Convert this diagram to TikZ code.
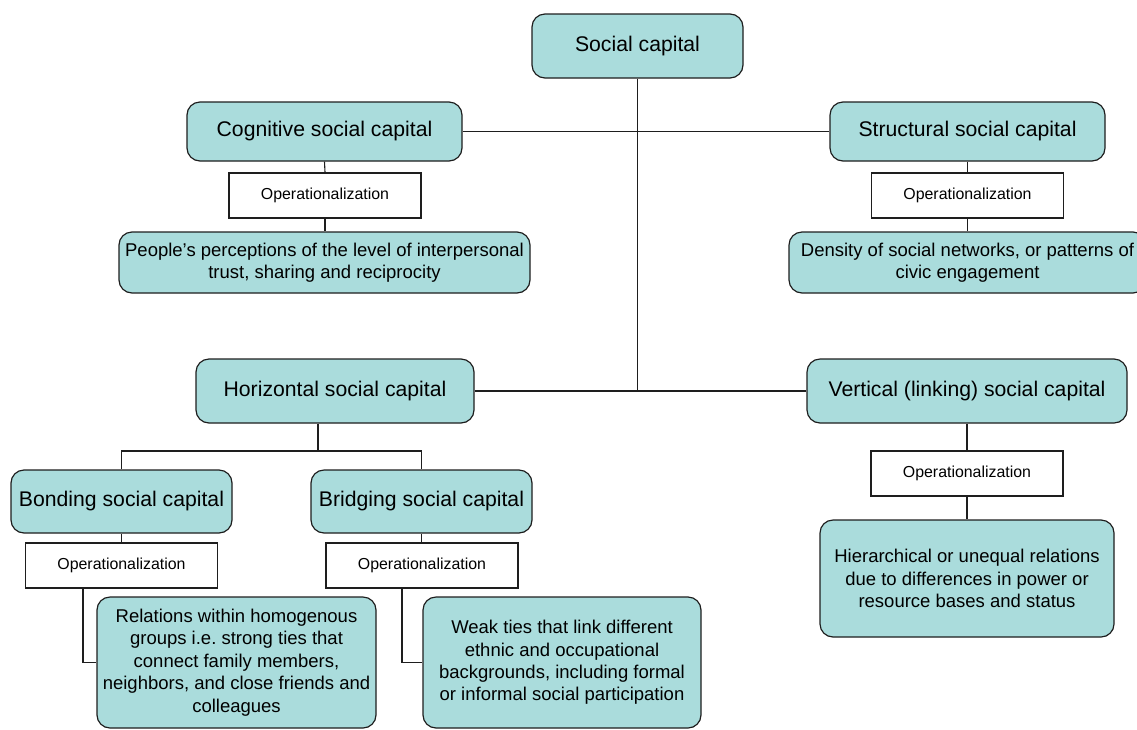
\documentclass[tikz,border=0pt]{standalone}
\usepackage{fontspec}
\setmainfont{Liberation Sans}
\usepackage{tikz}
\usetikzlibrary{calc}

\definecolor{capfill}{RGB}{170,220,220}
\definecolor{boxline}{RGB}{30,30,30}

\tikzset{
	capbox/.style={draw=boxline, fill=capfill, line width=1.2pt, rounded corners=13pt, align=center, inner sep=0pt},
	bigcap/.style={capbox, font=\fontsize{21.2}{25}\selectfont},
	desccap/.style={capbox, font=\fontsize{18.5}{22.4}\selectfont},
	opbox/.style={draw=boxline, fill=white, line width=1.2pt, inner sep=0pt, minimum width=192pt, minimum height=45pt, font=\fontsize{15.9}{19}\selectfont},
	link/.style={draw=boxline, line width=1.1pt}
}

\begin{document}
	\begin{tikzpicture}[x=1pt, y=-1pt]
		\useasboundingbox (0,0) rectangle (1137,729);
		\clip (0,0) rectangle (1137,729);

		\begin{scope}
			\node [bigcap, minimum width=211pt, minimum height=64pt] (social) at (637.5,46) {Social capital};
			\node [bigcap, minimum width=275pt, minimum height=59pt] (cognitive) at (324.5,131.5) {Cognitive social capital};
			\node [bigcap, minimum width=275pt, minimum height=59pt] (structural) at (967.5,131.5) {Structural social capital};
			\node [bigcap, minimum width=278pt, minimum height=64pt] (horizontal) at (335,391) {Horizontal social capital};
			\node [bigcap, minimum width=320pt, minimum height=64pt] (vertical) at (967,391) {Vertical (linking) social capital};
			\node [bigcap, minimum width=221pt, minimum height=63pt] (bonding) at (121.5,501.5) {Bonding social capital};
			\node [bigcap, minimum width=221pt, minimum height=63pt] (bridging) at (421.5,501.5) {Bridging social capital};
		\end{scope}

		\begin{scope}
			\node [opbox] (opcog) at (325,195.5) {Operationalization};
			\node [opbox] (opstruct) at (967.5,195.5) {Operationalization};
			\node [opbox] (opvert) at (967,473.5) {Operationalization};
			\node [opbox] (opbond) at (121.5,565.5) {Operationalization};
			\node [opbox] (opbridge) at (422,565.5) {Operationalization};
		\end{scope}

		\begin{scope}
			\node [desccap, minimum width=411pt, minimum height=61pt] (people) at (324.5,262.5) {People's perceptions of the level of interpersonal\\trust, sharing and reciprocity};
			\node [desccap, minimum width=357pt, minimum height=61pt] (density) at (967.5,262.5) {Density of social networks, or patterns of\\civic engagement};
			\node [desccap, minimum width=294pt, minimum height=117pt] (hierarchy) at (967,578.5) {Hierarchical or unequal relations\\due to differences in power or\\resource bases and status};
			\node [desccap, minimum width=279pt, minimum height=131pt] (relations) at (236.5,662.5) {Relations within homogenous\\groups i.e.\ strong ties that\\connect family members,\\neighbors, and close friends and\\colleagues};
			\node [desccap, minimum width=278pt, minimum height=131pt] (weak) at (562,662.5) {Weak ties that link different\\ethnic and occupational\\backgrounds, including formal\\or informal social participation};
		\end{scope}

		\begin{scope}
			\coordinate (hsplit) at (318,451);
			\coordinate (bondout) at (83,588);
			\coordinate (bridgeout) at (402,588);

			\draw [link] (social.south) -- (social.south |- horizontal.east);
			\draw [link] (cognitive.east) -- (structural.west);
			\draw [link] (horizontal.east) -- (vertical.west);

			\draw [link] (cognitive.south) -- (opcog.north);
			\draw [link] (opcog.south) -- (opcog.south |- people.north);
			\draw [link] (structural.south) -- (opstruct.north);
			\draw [link] (opstruct.south) -- (opstruct.south |- density.north);
			\draw [link] (vertical.south) -- (vertical.south |- opvert.north);
			\draw [link] (opvert.south) -- (opvert.south |- hierarchy.north);

			\draw [link] (hsplit |- horizontal.south) -- (hsplit);
			\draw [link] (bonding.north) |- (hsplit) -| (bridging.north);
			\draw [link] (bonding.south) -- (opbond.north);
			\draw [link] (bridging.south) -- (bridging.south |- opbridge.north);
			\draw [link] (bondout) |- (relations.west);
			\draw [link] (bridgeout) |- (weak.west);
		\end{scope}
	\end{tikzpicture}
\end{document}
